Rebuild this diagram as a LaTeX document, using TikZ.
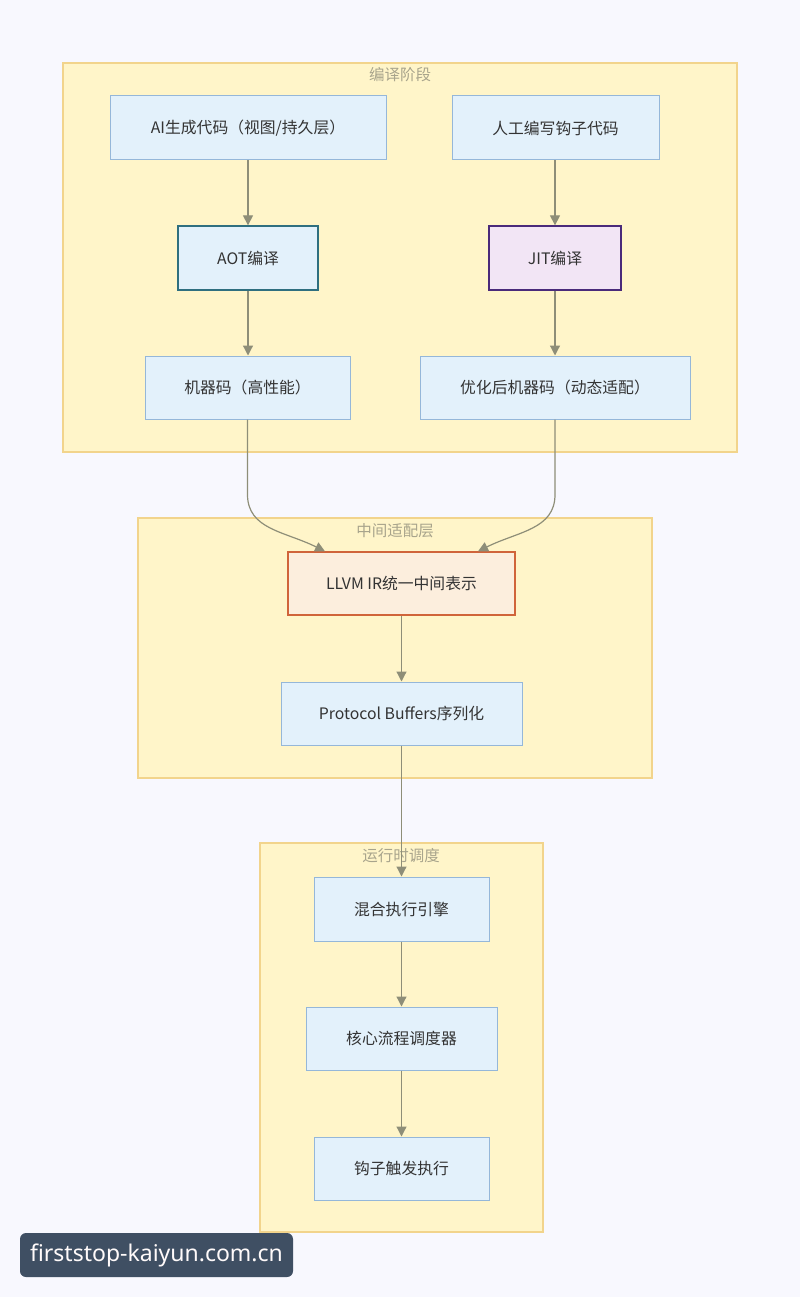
\documentclass[tikz,border=0pt]{standalone}
\usepackage{fontspec}
\setmainfont{Noto Sans CJK SC}
\newfontfamily\wmfont{Noto Sans}
\usetikzlibrary{arrows.meta}
\definecolor{bgc}{HTML}{F8F8FE}
\definecolor{clfill}{HTML}{FFF5C9}
\definecolor{cldraw}{HTML}{F2D48C}
\definecolor{nfill}{HTML}{E3F1FB}
\definecolor{ndraw}{HTML}{95B7D9}
\definecolor{aotdraw}{HTML}{2F6F7F}
\definecolor{jitfill}{HTML}{F2E5F5}
\definecolor{jitdraw}{HTML}{4A2A7A}
\definecolor{llfill}{HTML}{FCEEDD}
\definecolor{lldraw}{HTML}{D0643A}
\definecolor{ttl}{HTML}{A8A48C}
\definecolor{txt}{HTML}{333333}
\definecolor{edge}{HTML}{8E8E78}
\definecolor{wmbg}{HTML}{3F4F63}
\tikzset{
  cluster/.style={draw=cldraw, fill=clfill, line width=1.2pt},
  cltitle/.style={text=ttl, font=\fontsize{15.5}{18}\selectfont, inner sep=0pt},
  nbox/.style={draw=ndraw, fill=nfill, line width=1pt, text=txt,
    font=\fontsize{15.8}{18}\selectfont, inner sep=0pt},
  aotbox/.style={nbox, draw=aotdraw, line width=1.3pt},
  jitbox/.style={nbox, draw=jitdraw, fill=jitfill, line width=1.3pt},
  llbox/.style={nbox, draw=lldraw, fill=llfill, line width=1.3pt},
  conn/.style={draw=edge, line width=1.2pt, -{Triangle[length=10pt,width=10pt]}},
}
\begin{document}
\begin{tikzpicture}[x=1pt,y=-1pt]
\useasboundingbox (0,0) rectangle (800,1297);
\fill[bgc] (0,0) rectangle (800,1297);
% clusters
\draw[cluster] (63,63) rectangle (737,452);
\node[cltitle] (t1) at (400,75) {编译阶段};
\draw[cluster] (138,518) rectangle (652,778);
\node[cltitle] (t2) at (395,531) {中间适配层};
\draw[cluster] (260,843) rectangle (543,1232);
\node[cltitle] (t3) at (401,856) {运行时调度};
% nodes
\node[nbox, minimum width=276, minimum height=64] (ai) at (248,128) {AI生成代码（视图/持久层）};
\node[nbox, minimum width=207, minimum height=64] (hum) at (555.5,128) {人工编写钩子代码};
\node[aotbox, minimum width=140, minimum height=64] (aot) at (248,258) {AOT编译};
\node[jitbox, minimum width=132, minimum height=64] (jit) at (555,258) {JIT编译};
\node[nbox, minimum width=205, minimum height=63] (m1) at (247.5,387.5) {机器码（高性能）};
\node[nbox, minimum width=270, minimum height=63] (m2) at (555,387.5) {优化后机器码（动态适配）};
\node[llbox, minimum width=227, minimum height=63] (ll) at (401.5,583.5) {LLVM IR统一中间表示};
\node[nbox, minimum width=241, minimum height=63] (pb) at (401.5,713.5) {Protocol Buffers序列化};
\node[nbox, minimum width=175, minimum height=64] (mix) at (401.5,909) {混合执行引擎};
\node[nbox, minimum width=191, minimum height=63] (core) at (401.5,1038.5) {核心流程调度器};
\node[nbox, minimum width=175, minimum height=63] (hook) at (401.5,1168.5) {钩子触发执行};
% connectors
\draw[conn] (ai) -- (aot);
\draw[conn] (hum.south -| jit) -- (jit);
\draw[conn] (aot) -- (aot |- m1.north);
\draw[conn] (jit) -- (m2.north -| jit);
\coordinate (l1) at ([xshift=-76.5pt]ll.north);
\coordinate (l2) at ([xshift=76.5pt]ll.north);
\draw[conn] (m1.south) -- ++(0,75) .. controls +(0,35) and +(-40,-20) .. (l1);
\draw[conn] (m2.south -| jit) -- ++(0,75) .. controls +(0,35) and +(40,-20) .. (l2);
\draw[conn] (ll) -- (pb);
\draw[conn] (pb) -- (mix);
\draw[conn] (mix) -- (core);
\draw[conn] (core) -- (hook);
% watermark
\node[fill=wmbg, rounded corners=6pt, text=white!92!pink, font=\wmfont\fontsize{23}{26}\selectfont,
  minimum width=273, minimum height=44, inner sep=0pt] (wm) at (156.5,1255) {firststop-kaiyun.com.cn};
\end{tikzpicture}
\end{document}
